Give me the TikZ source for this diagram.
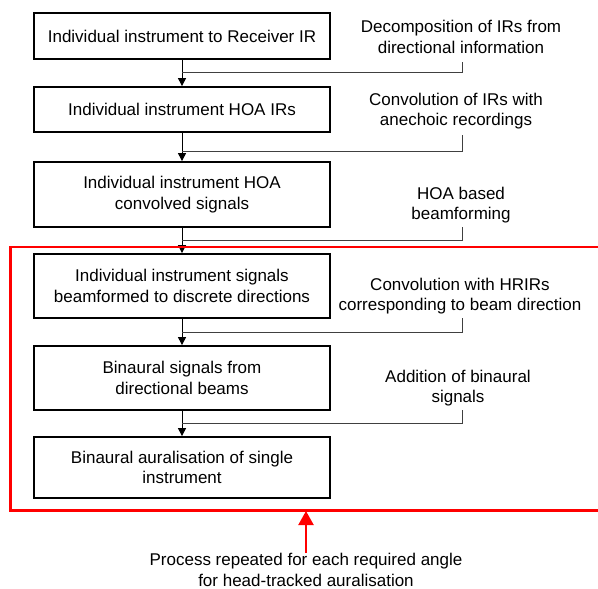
\documentclass[tikz,border=0pt]{standalone}
\usepackage{fontspec}
\setmainfont{Liberation Sans}
\usetikzlibrary{arrows.meta}
\begin{document}
\begin{tikzpicture}[x=1pt,y=-1pt,
  box/.style={draw=black,line width=1.8pt,minimum width=296pt,align=center,inner sep=0pt,font=\fontsize{17}{20.5}\selectfont},
  lbl/.style={align=center,inner sep=0pt,font=\fontsize{17}{20.5}\selectfont},
  conn/.style={draw=black!75,line width=1pt},
  arr/.style={draw=black,line width=1pt,-{Triangle[width=8pt,length=8pt]}},
  redarr/.style={draw=red,line width=2.2pt,-{Triangle[width=15pt,length=14pt]}}]
\useasboundingbox (0,0) rectangle (598,589);
\node[box,minimum height=46pt] (b1) at (182,36) {Individual instrument to Receiver IR};
\node[box,minimum height=45pt] (b2) at (182,109.5) {Individual instrument HOA IRs};
\node[box,minimum height=65pt] (b3) at (182,194.5) {Individual instrument HOA\\convolved signals};
\node[box,minimum height=64pt] (b4) at (182,286) {Individual instrument signals\\beamformed to discrete directions};
\node[box,minimum height=64pt] (b5) at (182,378) {Binaural signals from\\directional beams};
\node[box,minimum height=61pt] (b6) at (182,467.5) {Binaural auralisation of single\\instrument};
\node[lbl] (l1) at (461,37) {Decomposition of IRs from\\directional information};
\node[lbl] (l2) at (456,111) {Convolution of IRs with\\anechoic recordings};
\node[lbl] (l3) at (461,205) {HOA based\\beamforming};
\node[lbl] (l4) at (460,296) {Convolution with HRIRs\\corresponding to beam direction};
\node[lbl] (l5) at (458,388) {Addition of binaural\\signals};
\node[lbl] (bot) at (306,570) {Process repeated for each required angle\\for head-tracked auralisation};
\coordinate (t1) at (462,62);
\coordinate (t2) at (462,135);
\coordinate (t3) at (462,227);
\coordinate (t4) at (462,318);
\coordinate (t5) at (462,410);
\coordinate (j1) at (182,72);
\coordinate (j2) at (182,151);
\coordinate (j3) at (182,240);
\coordinate (j4) at (182,332);
\coordinate (j5) at (182,423);
\draw[arr] (b1) -- (b2);
\draw[arr] (b2) -- (b3);
\draw[arr] (b3) -- (b4);
\draw[arr] (b4) -- (b5);
\draw[arr] (b5) -- (b6);
\draw[conn] (t1) |- (j1);
\draw[conn] (t2) |- (j2);
\draw[conn] (t3) |- (j3);
\draw[conn] (t4) |- (j4);
\draw[conn] (t5) |- (j5);
\draw[red,line width=2.4pt] (602,247) -- (10.5,247) -- (10.5,510.5) -- (602,510.5);
\coordinate (rtip) at (306,511);
\coordinate (rtail) at (306,553);
\draw[redarr] (rtail) -- (rtip);
\end{tikzpicture}
\end{document}
